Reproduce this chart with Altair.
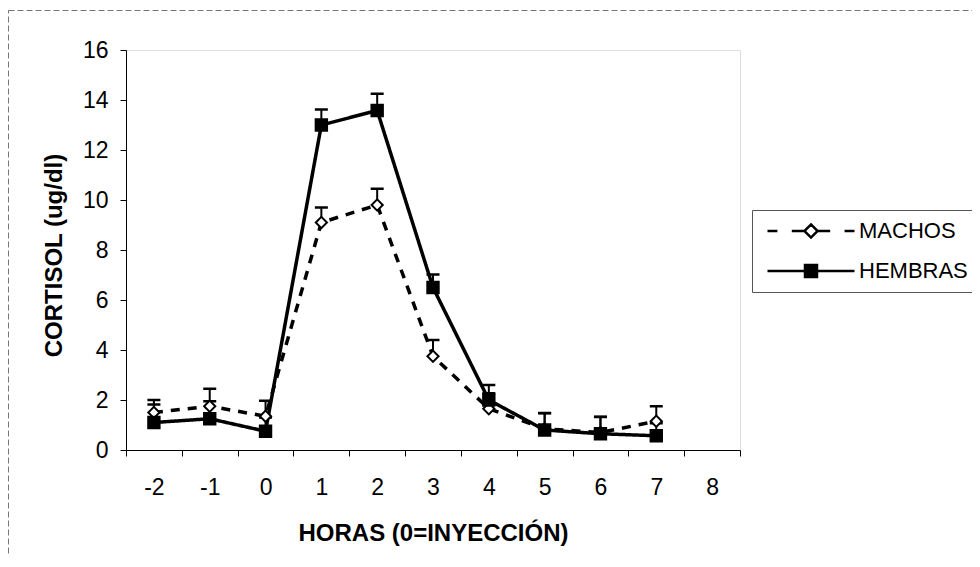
import altair as alt
import pandas as pd

# ---- data ----
horas = [-2, -1, 0, 1, 2, 3, 4, 5, 6, 7]
categorias = [-2, -1, 0, 1, 2, 3, 4, 5, 6, 7, 8]
series = ["MACHOS", "HEMBRAS"]
machos = [1.5, 1.75, 1.35, 9.1, 9.8, 3.75, 1.65, 0.85, 0.7, 1.15]
machos_err = [0.5, 0.7, 0.62, 0.6, 0.65, 0.65, 0.62, 0.62, 0.62, 0.6]
hembras = [1.1, 1.25, 0.75, 13.0, 13.58, 6.5, 2.0, 0.8, 0.65, 0.57]
hembras_err = [0.72, 0.7, 0.55, 0.62, 0.67, 0.52, 0.6, 0.68, 0.68, 0.5]
y_ticks = [0, 2, 4, 6, 8, 10, 12, 14, 16]

rows = []
for s, vals, errs in [("MACHOS", machos, machos_err), ("HEMBRAS", hembras, hembras_err)]:
    for h, v, e in zip(horas, vals, errs):
        rows.append({"hora": h, "serie": s, "valor": v, "top": round(v + e, 3)})
df = pd.DataFrame(rows)

FONT = "Liberation Sans"

x_axis = alt.Axis(
    title="HORAS (0=INYECCIÓN)", labelAngle=0, tickBand="extent", tickSize=6,
    labelPadding=20, labelFontSize=23, labelFont=FONT, labelColor="black",
    domainColor="black", tickColor="black", grid=False,
    titleFont=FONT, titleFontSize=24, titleFontWeight="bold", titleColor="black",
    titleX=307, titleY=83, titleBaseline="middle", titleAlign="center",
)
y_axis = alt.Axis(
    title="CORTISOL (ug/dl)", values=y_ticks, tickSize=6, labelPadding=12,
    labelFontSize=23, labelFont=FONT, labelColor="black",
    domainColor="black", tickColor="black", grid=False,
    titleFont=FONT, titleFontSize=24, titleFontWeight="bold", titleColor="black",
    titleAngle=270, titleX=-72, titleY=205, titleBaseline="middle", titleAlign="center",
)
x_scale = alt.Scale(type="band", domain=categorias, paddingInner=0, paddingOuter=0)
y_scale = alt.Scale(domain=[0, 16], nice=False)

def X():
    return alt.X("hora:O", scale=x_scale, axis=x_axis, sort=categorias)

def Y(field="valor"):
    return alt.Y(f"{field}:Q", scale=y_scale, axis=y_axis)

base = alt.Chart(df)

lines = base.mark_line(strokeWidth=3.5, color="black").encode(
    x=X(), y=Y(),
    strokeDash=alt.StrokeDash("serie:N", scale=alt.Scale(domain=series, range=[[9, 8], [1, 0]]), legend=None),
)

err = base.mark_rule(strokeWidth=2, color="black").encode(x=X(), y=Y(), y2="top:Q")
caps = base.mark_tick(thickness=2.5, size=13, color="black", opacity=1).encode(x=X(), y=Y("top"))

pts = base.mark_point(filled=True, stroke="black", strokeWidth=2, opacity=1).encode(
    x=X(), y=Y(),
    shape=alt.Shape("serie:N", scale=alt.Scale(domain=series, range=["diamond", "square"]), legend=None),
    fill=alt.Fill("serie:N", scale=alt.Scale(domain=series, range=["white", "black"]), legend=None),
    size=alt.Size("serie:N", scale=alt.Scale(domain=series, range=[125, 130]), legend=None),
)

# legend symbols: line + marker drawn as one custom path (unit = 6 px)
path_m = "M-7.25,0H-5.6M-3.2,0H-1.1M1.1,0H3.2M5.6,0H7.25M0,-1.1L1.1,0L0,1.1L-1.1,0Z"
path_h = "M-7.25,0H-1M1,0H7.25M-1,-1H1V1H-1Z"

def legend():
    return alt.Legend(
        title=None, orient="none", legendX=626, legendY=160, padding=10,
        strokeColor="#555", fillColor="white", rowPadding=17,
        symbolOffset=38, labelOffset=37, labelFont=FONT, labelFontSize=22,
        labelColor="black", symbolSize=144, symbolStrokeWidth=2.5,
    )

leg = base.transform_filter("false").mark_point(
    filled=True, size=144, strokeWidth=2.5, opacity=1
).encode(
    x=X(), y=Y(),
    shape=alt.Shape("serie:N", scale=alt.Scale(domain=series, range=[path_m, path_h]), legend=legend()),
    fill=alt.Fill("serie:N", scale=alt.Scale(domain=series, range=["white", "black"]), legend=legend()),
    stroke=alt.Stroke("serie:N", scale=alt.Scale(domain=series, range=["black", "black"]), legend=legend()),
)

# outer chart frame (only its top and left edges fall inside the picture)
frame = alt.Chart(pd.DataFrame({"k": [0]})).mark_rect(
    fill="white", fillOpacity=0, stroke="#777", strokeWidth=1, strokeDash=[6, 3]
).encode(
    x=alt.value(-117.5), x2=alt.value(900), y=alt.value(-39.5), y2=alt.value(560)
)

chart = alt.layer(frame, lines, err, caps, pts, leg).resolve_scale(
    shape="independent", fill="independent", stroke="independent"
).properties(
    width=614, height=400,
    padding={"left": 118, "top": 42, "right": 232, "bottom": 106},
    autosize=alt.AutoSizeParams(type="none"),
    background="white",
).configure_view(stroke=None).configure(font=FONT)

chart.save("out.html", embed_options={"renderer": "svg", "actions": False})
